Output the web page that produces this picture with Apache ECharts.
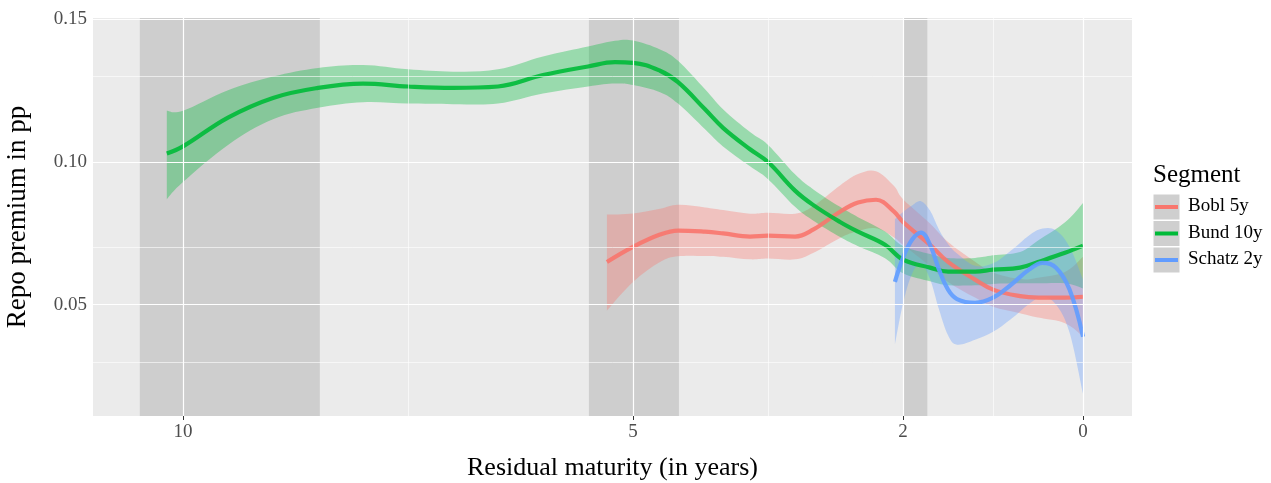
<!DOCTYPE html>
<html><head><meta charset="utf-8">
<script src="https://cdn.jsdelivr.net/npm/echarts@6/dist/echarts.min.js"></script>
<style>html,body{margin:0;padding:0;background:#fff}#c{width:1271px;height:483px}</style>
</head><body><div id="c"></div>
<script>
const segments = ["Bobl 5y", "Bund 10y", "Schatz 2y"];
const colors = ["#F8766D", "#00BA38", "#619CFF"];
const xTicks = [10, 5, 2, 0];
const xMinor = [7.5, 3.5, 1];
const yTicks = [0.05, 0.10, 0.15];
const yMinor = [0.025, 0.075, 0.125];
const shaded = [[8.48, 10.48], [4.49, 5.49], [1.73, 1.99]];

const bundX = [10.18,10,9.5,9,8.5,8,7.5,7,6.5,6,5.5,5.2,5,4.7,4.5,4.2,4,3.7,3.5,3.2,3,2.7,2.5,2.2,2,1.7,1.5,1.2,1,0.7,0.5,0.2,0];
const bundMid = [0.103,0.1055,0.1156,0.1225,0.126,0.1275,0.1265,0.126,0.1265,0.1305,0.1335,0.135,0.1348,0.132,0.128,0.1185,0.112,0.1045,0.1,0.090,0.085,0.079,0.0756,0.071,0.0658,0.063,0.0616,0.0616,0.0623,0.063,0.065,0.0682,0.0707];
const bundLo = [0.087,0.093,0.106,0.115,0.119,0.121,0.1205,0.1203,0.1205,0.1240,0.1265,0.1275,0.1270,0.1245,0.1205,0.1115,0.1055,0.0985,0.0940,0.0843,0.0795,0.0737,0.0705,0.0663,0.0610,0.0582,0.0568,0.0568,0.0573,0.0575,0.0575,0.0575,0.0557];
const bundHi = [0.118,0.118,0.1252,0.130,0.133,0.134,0.1325,0.1317,0.1325,0.1370,0.1405,0.1425,0.1426,0.1395,0.1355,0.1255,0.1185,0.1105,0.1060,0.0957,0.0905,0.0843,0.0807,0.0757,0.0706,0.0678,0.0664,0.0664,0.0673,0.0685,0.0725,0.0789,0.0857];

const boblX = [5.29,5,4.7,4.5,4.2,4,3.7,3.5,3.2,3,2.7,2.5,2.3,2.1,2,1.7,1.5,1.2,1,0.7,0.5,0.2,0];
const boblMid = [0.065,0.0703,0.0746,0.076,0.0756,0.075,0.0739,0.0742,0.0739,0.0763,0.0826,0.0858,0.0868,0.0826,0.079,0.071,0.065,0.0588,0.0553,0.053,0.0525,0.0525,0.0528];
const boblLo = [0.048,0.058,0.065,0.067,0.0671,0.0668,0.0659,0.0662,0.0659,0.0681,0.0734,0.0758,0.0768,0.0736,0.071,0.0635,0.058,0.0525,0.0493,0.047,0.0455,0.0435,0.0388];
const boblHi = [0.0816,0.082,0.0836,0.085,0.0841,0.0832,0.0819,0.0822,0.0819,0.0845,0.0918,0.0958,0.0968,0.0916,0.087,0.0785,0.072,0.0651,0.0613,0.059,0.0595,0.0615,0.0668];

const schatzX = [2.09,2.0,1.9,1.8,1.7,1.6,1.5,1.4,1.2,1.0,0.8,0.6,0.45,0.3,0.15,0];
const schatzMid = [0.058,0.0665,0.0728,0.0753,0.071,0.0623,0.0553,0.052,0.0507,0.0525,0.057,0.0623,0.0647,0.063,0.0553,0.0388];
const schatzLo = [0.036,0.0505,0.0608,0.0643,0.059,0.0483,0.0393,0.036,0.0377,0.0405,0.045,0.0503,0.0527,0.050,0.0403,0.0188];
const schatzHi = [0.080,0.0825,0.0848,0.0863,0.083,0.0763,0.0713,0.068,0.0637,0.0645,0.069,0.0743,0.0767,0.076,0.0703,0.0588];

const groups = [
  {x: boblX, mid: boblMid, lo: boblLo, hi: boblHi},
  {x: bundX, mid: bundMid, lo: bundLo, hi: bundHi},
  {x: schatzX, mid: schatzMid, lo: schatzLo, hi: schatzHi}
];

function spline(p, first) {
  let d = (first ? 'M' : 'L') + p[0][0] + ' ' + p[0][1];
  const t = 0.18;
  for (let i = 0; i < p.length - 1; i++) {
    const p0 = p[Math.max(0, i - 1)], p1 = p[i], p2 = p[i + 1], p3 = p[Math.min(p.length - 1, i + 2)];
    const c1 = [p1[0] + (p2[0] - p0[0]) * t, p1[1] + (p2[1] - p0[1]) * t];
    const c2 = [p2[0] - (p3[0] - p1[0]) * t, p2[1] - (p3[1] - p1[1]) * t];
    d += ' C' + c1[0] + ' ' + c1[1] + ' ' + c2[0] + ' ' + c2[1] + ' ' + p2[0] + ' ' + p2[1];
  }
  return d;
}

const font = "Liberation Serif";
const chart = echarts.init(document.getElementById('c'));
const series = [];
series.push({
  type: 'line', data: [], silent: true, z: 1,
  markArea: {silent: true, itemStyle: {color: 'rgba(190,190,190,0.65)'},
    data: shaded.map(s => [{xAxis: s[0]}, {xAxis: s[1]}])},
  markLine: {silent: true, symbol: 'none', label: {show: false},
    data: [
      ...xTicks.map(v => ({xAxis: v, lineStyle: {color: '#fff', width: 1.2, type: 'solid'}})),
      ...xMinor.map(v => ({xAxis: v, lineStyle: {color: '#fff', width: 0.6, type: 'solid'}})),
      ...yTicks.map(v => ({yAxis: v, lineStyle: {color: '#fff', width: 1.2, type: 'solid'}})),
      ...yMinor.map(v => ({yAxis: v, lineStyle: {color: '#fff', width: 0.6, type: 'solid'}}))
    ]}
});
groups.forEach((g, i) => {
  series.push({
    type: 'custom', z: 2, silent: true, clip: true,
    data: [0],
    renderItem: (params, api) => {
      const top = [], bot = [];
      for (let k = 0; k < g.x.length; k++) top.push(api.coord([g.x[k], g.hi[k]]));
      for (let k = g.x.length - 1; k >= 0; k--) bot.push(api.coord([g.x[k], g.lo[k]]));
      const d = spline(top, true) + ' ' + spline(bot, false) + ' Z';
      return {type: 'path', shape: {pathData: d},
        style: {fill: colors[i], opacity: 0.35}};
    }
  });
});
groups.forEach((g, i) => {
  series.push({
    type: 'line', name: segments[i], z: 3, smooth: 0.4, symbol: 'none', silent: true,
    data: g.x.map((x, k) => [x, g.mid[k]]),
    lineStyle: {color: colors[i], width: 4.2, opacity: 0.9}
  });
});

const graphic = [
  {type: 'text', left: 1153, top: 163, style: {text: 'Segment', font: '25px "' + font + '"', fill: '#000'}}
];
segments.forEach((s, i) => {
  const y = 194 + i * 26.5;
  graphic.push({type: 'rect', shape: {x: 1153, y: y, width: 27, height: 26}, style: {fill: '#cfcfcf', stroke: '#fff', lineWidth: 1}});
  graphic.push({type: 'line', shape: {x1: 1155, y1: y + 13, x2: 1178, y2: y + 13}, style: {stroke: colors[i], lineWidth: 4}});
  graphic.push({type: 'text', left: 1188, top: y + 3, style: {text: s, font: '19px "' + font + '"', fill: '#000'}});
});

chart.setOption({
  animation: false,
  grid: {left: 93, right: 139, top: 18, bottom: 67, show: true, backgroundColor: '#EBEBEB', borderWidth: 0,
    containLabel: false, outerBoundsMode: 'none'},
  xAxis: {type: 'value', inverse: true, min: -0.544, max: 11,
    name: 'Residual maturity (in years)', nameLocation: 'middle', nameGap: 39,
    nameTextStyle: {fontFamily: font, fontSize: 26, color: '#000'},
    axisLine: {show: false}, splitLine: {show: false},
    axisTick: {show: true, customValues: xTicks, length: 4, lineStyle: {color: '#333'}},
    axisLabel: {customValues: xTicks, fontFamily: font, fontSize: 19, color: '#4d4d4d', margin: 7}
  },
  yAxis: {type: 'value', min: 0.011, max: 0.1505,
    name: 'Repo premium in pp', nameLocation: 'middle', nameGap: 62,
    nameTextStyle: {fontFamily: font, fontSize: 27, color: '#000'},
    axisLine: {show: false}, splitLine: {show: false},
    axisTick: {show: true, customValues: yTicks, length: 4, lineStyle: {color: '#333'}},
    axisLabel: {customValues: yTicks, fontFamily: font, fontSize: 19, color: '#4d4d4d', margin: 6,
      formatter: v => v.toFixed(2)}
  },
  graphic: graphic,
  series: series
});
</script></body></html>
